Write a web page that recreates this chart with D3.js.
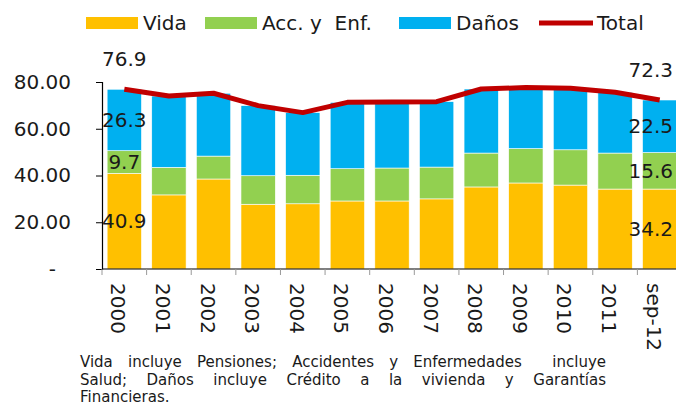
<!DOCTYPE html>
<html lang="es">
<head>
  <meta charset="UTF-8">
  <title>Primas por ramo</title>
  <style>
    body { margin: 0; background: #fff; }
    svg text { font-family: "DejaVu Sans", Verdana, sans-serif; fill: #1a1a1a; }
  </style>
</head>
<body>
  <script src="https://d3js.org/d3.v7.min.js"></script>
  <script>
    const years = ['2000', '2001', '2002', '2003', '2004', '2005', '2006', '2007', '2008', '2009', '2010', '2011', 'sep-12']
    const vida = [40.9, 31.7, 38.5, 27.7, 27.9, 29.1, 29.1, 30.0, 35.1, 36.8, 35.9, 34.2, 34.2]
    const accEnf = [9.7, 11.8, 9.8, 12.2, 12.2, 13.8, 14.1, 13.6, 14.5, 14.7, 15.1, 15.4, 15.6]
    const danos = [26.3, 30.5, 26.9, 30.0, 26.8, 28.4, 28.2, 28.0, 27.4, 26.1, 26.3, 26.0, 22.5]
    const total = [76.9, 74.0, 75.2, 69.9, 66.9, 71.3, 71.4, 71.6, 77.0, 77.6, 77.3, 75.6, 72.3]
    const yTicks = [0, 20, 40, 60, 80]
    const labelled = ['2000', 'sep-12']   // only first and last bars carry values
    const seriesNames = ['Vida', 'Acc. y  Enf.', 'Daños']
    const colors = ['#FFC000', '#92D050', '#00B0F0']
    const lineColor = '#C00000'
    const note = [
      'Vida incluye Pensiones; Accidentes y Enfermedades  incluye',
      'Salud; Daños incluye Crédito a la vivienda y Garantías',
      'Financieras.'
    ]

    const W = 676, H = 407
    const svg = d3.select('body').append('svg')
      .attr('width', W).attr('height', H)

    const x = d3.scaleBand().domain(years).range([102, 682])
      .paddingInner(0.23).paddingOuter(0.115)
    const y = d3.scaleLinear().domain([0, 80]).range([269, 82])

    const rows = years.map((yr, i) => ({ year: yr, v0: vida[i], v1: accEnf[i], v2: danos[i], total: total[i] }))
    const stack = d3.stack().keys(['v0', 'v1', 'v2'])(rows)

    // bars
    svg.append('g').selectAll('g')
      .data(stack)
      .join('g')
      .attr('fill', (d, i) => colors[i])
      .selectAll('rect')
      .data(d => d)
      .join('rect')
      .attr('x', d => x(d.data.year))
      .attr('width', x.bandwidth())
      .attr('y', d => y(d[1]))
      .attr('height', d => y(d[0]) - y(d[1]))
      .attr('stroke', '#fff')
      .attr('stroke-width', 0.6)

    // axes
    const yAxis = svg.append('g')
      .attr('transform', 'translate(102,0)')
      .call(d3.axisLeft(y).tickValues(yTicks).tickSize(6).tickPadding(25)
        .tickFormat(d => d === 0 ? '-' : d3.format('.2f')(d)))
    yAxis.select('.domain').attr('stroke', '#000').attr('stroke-width', 1.2)
    yAxis.selectAll('.tick line').attr('stroke', '#000')
    yAxis.selectAll('.tick text')
      .style('font-size', '20px')
      .attr('fill', '#1a1a1a')
      .attr('dx', d => d === 0 ? -15 : 0)

    const xAxis = svg.append('g')
      .attr('transform', 'translate(0,269)')
    xAxis.append('line')
      .attr('x1', 102).attr('x2', 682)
      .attr('stroke', '#000').attr('stroke-width', 1.2)
    xAxis.selectAll('line.tk')
      .data(years.concat(['end']))
      .join('line')
      .attr('class', 'tk')
      .attr('x1', (d, i) => i < years.length ? x(d) - x.step() * x.paddingInner() / 2 : 682)
      .attr('x2', (d, i) => i < years.length ? x(d) - x.step() * x.paddingInner() / 2 : 682)
      .attr('y1', 0).attr('y2', 6)
      .attr('stroke', '#999')
    xAxis.selectAll('text')
      .data(years)
      .join('text')
      .attr('transform', d => `translate(${x(d) + x.bandwidth() / 2 - 6},14) rotate(90)`)
      .attr('dy', '0.35em')
      .style('font-size', '20px')
      .text(d => d)

    // total line
    const line = d3.line()
      .x((d, i) => x(years[i]) + x.bandwidth() / 2)
      .y(d => y(d))
    svg.append('path')
      .datum(total)
      .attr('d', line)
      .attr('fill', 'none')
      .attr('stroke', lineColor)
      .attr('stroke-width', 5)
      .attr('stroke-linejoin', 'round')

    // value labels
    const fitX = (node, cx) => {
      const w = node.getComputedTextLength()
      return Math.min(cx, 673 - w / 2)
    }
    const labelG = svg.append('g')
    rows.filter(r => labelled.includes(r.year)).forEach(r => {
      const cx = x(r.year) + x.bandwidth() / 2
      const items = [
        { v: r.v0, yy: y(r.v0 / 2) },
        { v: r.v1, yy: y(r.v0 + r.v1 / 2) },
        { v: r.v2, yy: y(r.v0 + r.v1 + r.v2 / 2) },
        { v: r.total, yy: y(r.total) - 30 }
      ]
      items.forEach(it => {
        const t = labelG.append('text')
          .attr('text-anchor', 'middle')
          .attr('dy', '0.36em')
          .attr('y', it.yy)
          .style('font-size', '20px')
          .text(d3.format('.1f')(it.v))
        t.attr('x', fitX(t.node(), cx))
      })
    })

    // legend
    const legendX = [86, 205, 399]
    const leg = svg.append('g')
    seriesNames.forEach((name, i) => {
      leg.append('rect')
        .attr('x', legendX[i]).attr('y', 17)
        .attr('width', 52).attr('height', 12)
        .attr('fill', colors[i])
      leg.append('text')
        .attr('x', legendX[i] + 57).attr('y', 30)
        .style('font-size', '20px')
        .style('white-space', 'pre')
        .text(name)
    })
    leg.append('line')
      .attr('x1', 539).attr('x2', 593)
      .attr('y1', 23).attr('y2', 23)
      .attr('stroke', lineColor).attr('stroke-width', 5)
    leg.append('text')
      .attr('x', 597).attr('y', 30)
      .style('font-size', '20px')
      .text('Total')

    // footnote, first two lines justified by widening the word gaps
    const noteWidth = 526
    svg.append('g').selectAll('text')
      .data(note)
      .join('text')
      .attr('x', 80)
      .attr('y', (d, i) => 367 + i * 17.5)
      .style('font-size', '15px')
      .style('white-space', 'pre')
      .text(d => d)
      .each(function (d, i) {
        if (i > 1) return
        const gaps = d.split(' ').length - 1
        const w = this.getComputedTextLength()
        d3.select(this).style('word-spacing', Math.max(0, (noteWidth - w) / gaps) + 'px')
      })
  </script>
</body>
</html>
